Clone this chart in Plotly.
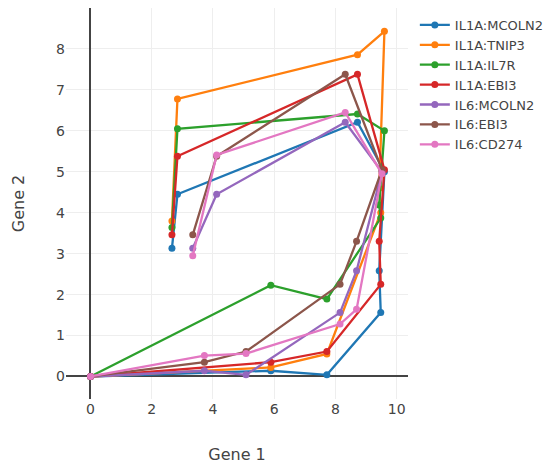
import plotly.graph_objects as go

# Gene 1 expression at each time step (shared by every pair with that gene)
il1a_x = [0, 5.89, 7.72, 9.48, 9.43, 9.60, 8.72, 2.84, 2.66]
il6_x = [0, 3.72, 5.08, 8.15, 8.69, 9.52, 8.32, 4.12, 3.34]

# Gene 2 expression at each time step
mcoln2 = [0, 0.14, 0.04, 1.56, 2.58, 5.00, 6.21, 4.45, 3.13]
tnip3 = [0, 0.22, 0.55, 4.00, 4.60, 8.43, 7.86, 6.78, 3.80]
il7r = [0, 2.23, 1.89, 3.87, 4.19, 6.00, 6.41, 6.05, 3.64]
ebi3 = [0, 0.35, 0.61, 2.25, 3.30, 5.05, 7.38, 5.38, 3.46]
cd274 = [0, 0.51, 0.56, 1.28, 1.64, 4.95, 6.45, 5.41, 2.95]

pairs = [
    ("IL1A:MCOLN2", il1a_x, mcoln2, "#1f77b4"),
    ("IL1A:TNIP3", il1a_x, tnip3, "#ff7f0e"),
    ("IL1A:IL7R", il1a_x, il7r, "#2ca02c"),
    ("IL1A:EBI3", il1a_x, ebi3, "#d62728"),
    ("IL6:MCOLN2", il6_x, mcoln2, "#9467bd"),
    ("IL6:EBI3", il6_x, ebi3, "#8c564b"),
    ("IL6:CD274", il6_x, cd274, "#e377c2"),
]

fig = go.Figure()
for name, xs, ys, color in pairs:
    fig.add_trace(go.Scatter(
        x=xs, y=ys, name=name, mode="lines+markers",
        line=dict(color=color, width=2.3),
        marker=dict(color=color, size=7),
    ))

axis_style = dict(
    showgrid=True, gridcolor="#eeeeee", gridwidth=1,
    zeroline=True, zerolinecolor="#444444", zerolinewidth=1.5,
    showline=False, ticks="", tickfont=dict(size=14, color="#444444"),
)

fig.update_layout(
    template="none",
    width=543, height=466,
    margin=dict(l=66, r=135, t=8, b=67, pad=0, autoexpand=False),
    paper_bgcolor="white", plot_bgcolor="white",
    font=dict(family="DejaVu Sans, Verdana, sans-serif", size=14, color="#444444"),
    xaxis=dict(range=[-0.8, 10.37], dtick=2,
               title=dict(text="Gene 1", font=dict(size=16), standoff=32), **axis_style),
    yaxis=dict(range=[-0.55, 9.0], dtick=1,
               title=dict(text="Gene 2", font=dict(size=16)), **axis_style),
    legend=dict(x=1.02, y=0.995, xanchor="left", yanchor="top", font=dict(size=13),
                bgcolor="rgba(0,0,0,0)"),
    showlegend=True,
)

fig.write_html("out.html")
